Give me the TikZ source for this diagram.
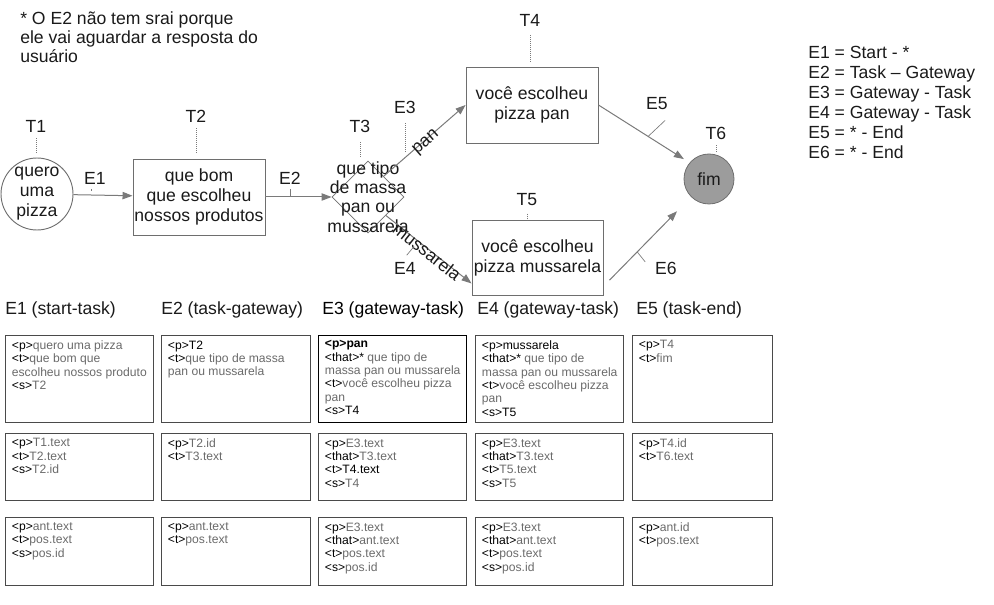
\documentclass[tikz,border=0pt]{standalone}
\usepackage{fontspec}
\setmainfont{Liberation Sans}
\usetikzlibrary{arrows.meta,shapes.geometric}
\definecolor{linegray}{HTML}{7A7A7A}
\definecolor{boxgray}{HTML}{6E6E6E}
\definecolor{cellgray}{HTML}{6A6A6A}
\definecolor{cellborder}{HTML}{4A4A4A}
\definecolor{fimgray}{HTML}{9C9C9C}
\definecolor{ink}{HTML}{1A1A1A}
\newcommand\tg[1]{\textcolor{black}{#1}}
\begin{document}
\begin{tikzpicture}[x=0.75pt,y=-0.75pt,
  every node/.style={font=\fontsize{13.2}{15}\selectfont, text=ink},
  shapebox/.style={draw=boxgray, line width=0.7pt, align=center, inner sep=0pt},
  conn/.style={draw=linegray, line width=0.75pt, -{Triangle[length=7.5pt,width=5.5pt]}},
  leader/.style={draw=linegray, densely dotted, line width=0.5pt},
  tickline/.style={draw=linegray, line width=0.5pt},
  cell/.style={draw=cellborder, line width=0.75pt, anchor=north west, inner sep=0pt},
  celltext/.style={font=\fontsize{9.1}{10}\selectfont, text=cellgray, align=left, inner sep=0pt, anchor=north west},
  hdr/.style={anchor=west, inner sep=0pt},
]
\useasboundingbox (0,0) rectangle (994,605);

% note and legend
\node[anchor=north west, align=left, inner sep=0pt, font=\fontsize{13.2}{14.3}\selectfont] (note) at (20,11)
  {* O E2 não tem srai porque\\ele vai aguardar a resposta do\\usuário};
\node[anchor=north west, align=left, inner sep=0pt] (legend) at (808,46)
  {E1 = Start - *\\E2 = Task -- Gateway\\E3 = Gateway - Task\\E4 = Gateway - Task\\E5 = * - End\\E6 = * - End};

% flow shapes
\node[circle, shapebox, minimum size=54pt] (t1) at (37,194) {quero\\uma\\pizza};
\node[rectangle, shapebox, minimum width=99pt, minimum height=57pt] (t2) at (199,197) {que bom\\que escolheu\\nossos produtos};
\node[diamond, draw=boxgray, line width=0.6pt, minimum width=54pt, minimum height=54pt, inner sep=0pt] (t3) at (368,197) {};
\node[align=center, inner sep=0pt, font=\fontsize{13.2}{14.5}\selectfont] (t3txt) at (368,197) {que tipo\\de massa\\pan ou\\mussarela};
\node[rectangle, shapebox, minimum width=99pt, minimum height=57pt] (t4) at (532,105) {você escolheu\\pizza pan};
\node[rectangle, shapebox, minimum width=98.25pt, minimum height=56.25pt] (t5) at (537.5,257.5) {você escolheu\\pizza mussarela};
\node[circle, draw=boxgray, fill=fimgray, line width=0.6pt, minimum size=37.5pt, inner sep=0pt] (t6) at (709,179) {fim};

% T labels
\node (lt1) at (36,126) {T1};
\node (lt2) at (196,116) {T2};
\node (lt3) at (360,126) {T3};
\node (lt4) at (530,20) {T4};
\node (lt5) at (527,200) {T5};
\node (lt6) at (716,133) {T6};
\draw[leader, shorten <=1pt, shorten >=3pt] (lt1.south) -- (lt1.south |- t1.north);
\draw[leader, shorten <=1pt, shorten >=4pt] (lt2.south) -- (lt2.south |- t2.north);
\draw[leader, shorten <=4pt, shorten >=2pt] (lt3.south) -- (lt3.south |- t3.north);
\draw[leader, shorten <=3pt, shorten >=3.5pt] (lt4.south) -- (lt4.south |- t4.north);
\draw[leader, shorten <=2pt] (lt5.south) -- (lt5.south |- t5.north);
\draw[leader, shorten <=1pt, shorten >=0.5pt] (lt6.south) -- (lt6.south |- t6.north);

% E labels
\node (le1) at (95,178) {E1};
\node (le2) at (290,178) {E2};
\node (le3) at (405,107) {E3};
\node (le4) at (405,268) {E4};
\node (le5) at (657,104) {E5};
\node (le6) at (666,268) {E6};

% connectors
\draw[conn] (t1) -- coordinate[pos=0.3] (e1pt) (t2);
\draw[conn] (t2) -- coordinate[pos=0.37] (e2pt) (t3.west);
\draw[conn] (t3.53) -- coordinate[pos=0.22] (e3pt)
  node[sloped, midway, yshift=-2pt, inner sep=0pt] (lpan) {pan} (t4.west);
\draw[conn] (t3.-46) -- coordinate[pos=0.38] (e4pt)
  node[sloped, midway, yshift=-2pt, inner sep=0pt] (lmus) {mussarela} ([yshift=9pt]t5.south west);
\draw[conn, shorten >=5pt] (t4.east) -- coordinate[pos=0.545] (e5pt) (t6.140);
\draw[conn, shorten >=15pt] ([xshift=4.5pt,yshift=-17pt]t5.east) -- coordinate[pos=0.34] (e6pt) (t6.225);

% E leaders
\draw[tickline] (e1pt |- le1.south) -- ([yshift=3pt]e1pt);
\draw[tickline] (e2pt |- le2.south) -- (e2pt);
\draw[leader, shorten <=4pt, shorten >=6pt] (le3.south) -- (le3.south |- e3pt);
\draw[tickline, shorten <=2pt, shorten >=5pt] (le4.north) -- (e4pt);
\draw[tickline] (e5pt) -- ([shift={(17,-16)}]e5pt);
\draw[tickline] (e6pt) -- ([shift={(8,10)}]e6pt);

% headers
\node[hdr] (h1) at (5,310) {E1 (start-task)};
\node[hdr] (h2) at (161,310) {E2 (task-gateway)};
\node[hdr, text=black] (h3) at (322,310) {E3 (gateway-task)};
\node[hdr] (h4) at (477,310) {E4 (gateway-task)};
\node[hdr] (h5) at (636,310) {E5 (task-end)};

% row 1
\node[cell, minimum width=111pt, minimum height=65.25pt] (c11) at (5,335) {};
\node[cell, minimum width=111.75pt, minimum height=65.25pt] (c21) at (161,335) {};
\node[cell, draw=black, line width=1pt, minimum width=111pt, minimum height=65.25pt] (c31) at (318,335) {};
\node[cell, minimum width=111pt, minimum height=65.25pt] (c41) at (475,335) {};
\node[cell, minimum width=105pt, minimum height=65.25pt] (c51) at (632,335) {};
% row 2
\node[cell, minimum width=111pt, minimum height=50.25pt] (c12) at (5,433) {};
\node[cell, minimum width=111.75pt, minimum height=50.25pt] (c22) at (161,433) {};
\node[cell, minimum width=111pt, minimum height=50.25pt] (c32) at (318,433) {};
\node[cell, minimum width=111pt, minimum height=50.25pt] (c42) at (475,433) {};
\node[cell, minimum width=105pt, minimum height=50.25pt] (c52) at (632,433) {};
% row 3
\node[cell, minimum width=111pt, minimum height=51pt] (c13) at (5,517) {};
\node[cell, minimum width=111.75pt, minimum height=51pt] (c23) at (161,517) {};
\node[cell, minimum width=111pt, minimum height=51pt] (c33) at (318,517) {};
\node[cell, minimum width=111pt, minimum height=51pt] (c43) at (475,517) {};
\node[cell, minimum width=105pt, minimum height=51pt] (c53) at (632,517) {};

% cell texts row 1
\node[celltext] (c11t) at ([xshift=5pt,yshift=-4pt]c11.north west)
  {\tg{<p>}quero uma pizza\\\tg{<t>}que bom que\\escolheu nossos produto\\\tg{<s>}T2};
\node[celltext] (c21t) at ([xshift=5pt,yshift=-4pt]c21.north west)
  {\tg{<p>T2}\\\tg{<t>}que tipo de massa\\pan ou mussarela};
\node[celltext] (c31t) at ([xshift=5pt,yshift=-4pt]c31.north west)
  {\tg{\textbf{<p>pan}}\\\tg{<that>*} que tipo de\\massa pan ou mussarela\\\tg{<t>}você escolheu pizza\\pan\\\tg{<s>T4}};
\node[celltext] (c41t) at ([xshift=5pt,yshift=-4pt]c41.north west)
  {\tg{<p>mussarela}\\\tg{<that>*} que tipo de\\massa pan ou mussarela\\\tg{<t>}você escolheu pizza\\pan\\\tg{<s>T5}};
\node[celltext] (c51t) at ([xshift=5pt,yshift=-4pt]c51.north west)
  {\tg{<p>}T4\\\tg{<t>}fim};
% row 2
\node[celltext] (c12t) at ([xshift=5pt,yshift=-4pt]c12.north west)
  {\tg{<p>}T1.text\\\tg{<t>}T2.text\\\tg{<s>}T2.id};
\node[celltext] (c22t) at ([xshift=5pt,yshift=-4pt]c22.north west)
  {\tg{<p>}T2.id\\\tg{<t>}T3.text};
\node[celltext] (c32t) at ([xshift=5pt,yshift=-4pt]c32.north west)
  {\tg{<p>}E3.text\\\tg{<that>}T3.text\\\tg{<t>T4.text}\\\tg{<s>}T4};
\node[celltext] (c42t) at ([xshift=5pt,yshift=-4pt]c42.north west)
  {\tg{<p>}E3.text\\\tg{<that>}T3.text\\\tg{<t>}T5.text\\\tg{<s>}T5};
\node[celltext] (c52t) at ([xshift=5pt,yshift=-4pt]c52.north west)
  {\tg{<p>}T4.id\\\tg{<t>}T6.text};
% row 3
\node[celltext] (c13t) at ([xshift=5pt,yshift=-4pt]c13.north west)
  {\tg{<p>}ant.text\\\tg{<t>}pos.text\\\tg{<s>}pos.id};
\node[celltext] (c23t) at ([xshift=5pt,yshift=-4pt]c23.north west)
  {\tg{<p>}ant.text\\\tg{<t>}pos.text};
\node[celltext] (c33t) at ([xshift=5pt,yshift=-4pt]c33.north west)
  {\tg{<p>}E3.text\\\tg{<that>}ant.text\\\tg{<t>}pos.text\\\tg{<s>}pos.id};
\node[celltext] (c43t) at ([xshift=5pt,yshift=-4pt]c43.north west)
  {\tg{<p>}E3.text\\\tg{<that>}ant.text\\\tg{<t>}pos.text\\\tg{<s>}pos.id};
\node[celltext] (c53t) at ([xshift=5pt,yshift=-4pt]c53.north west)
  {\tg{<p>}ant.id\\\tg{<t>}pos.text};
\end{tikzpicture}
\end{document}
